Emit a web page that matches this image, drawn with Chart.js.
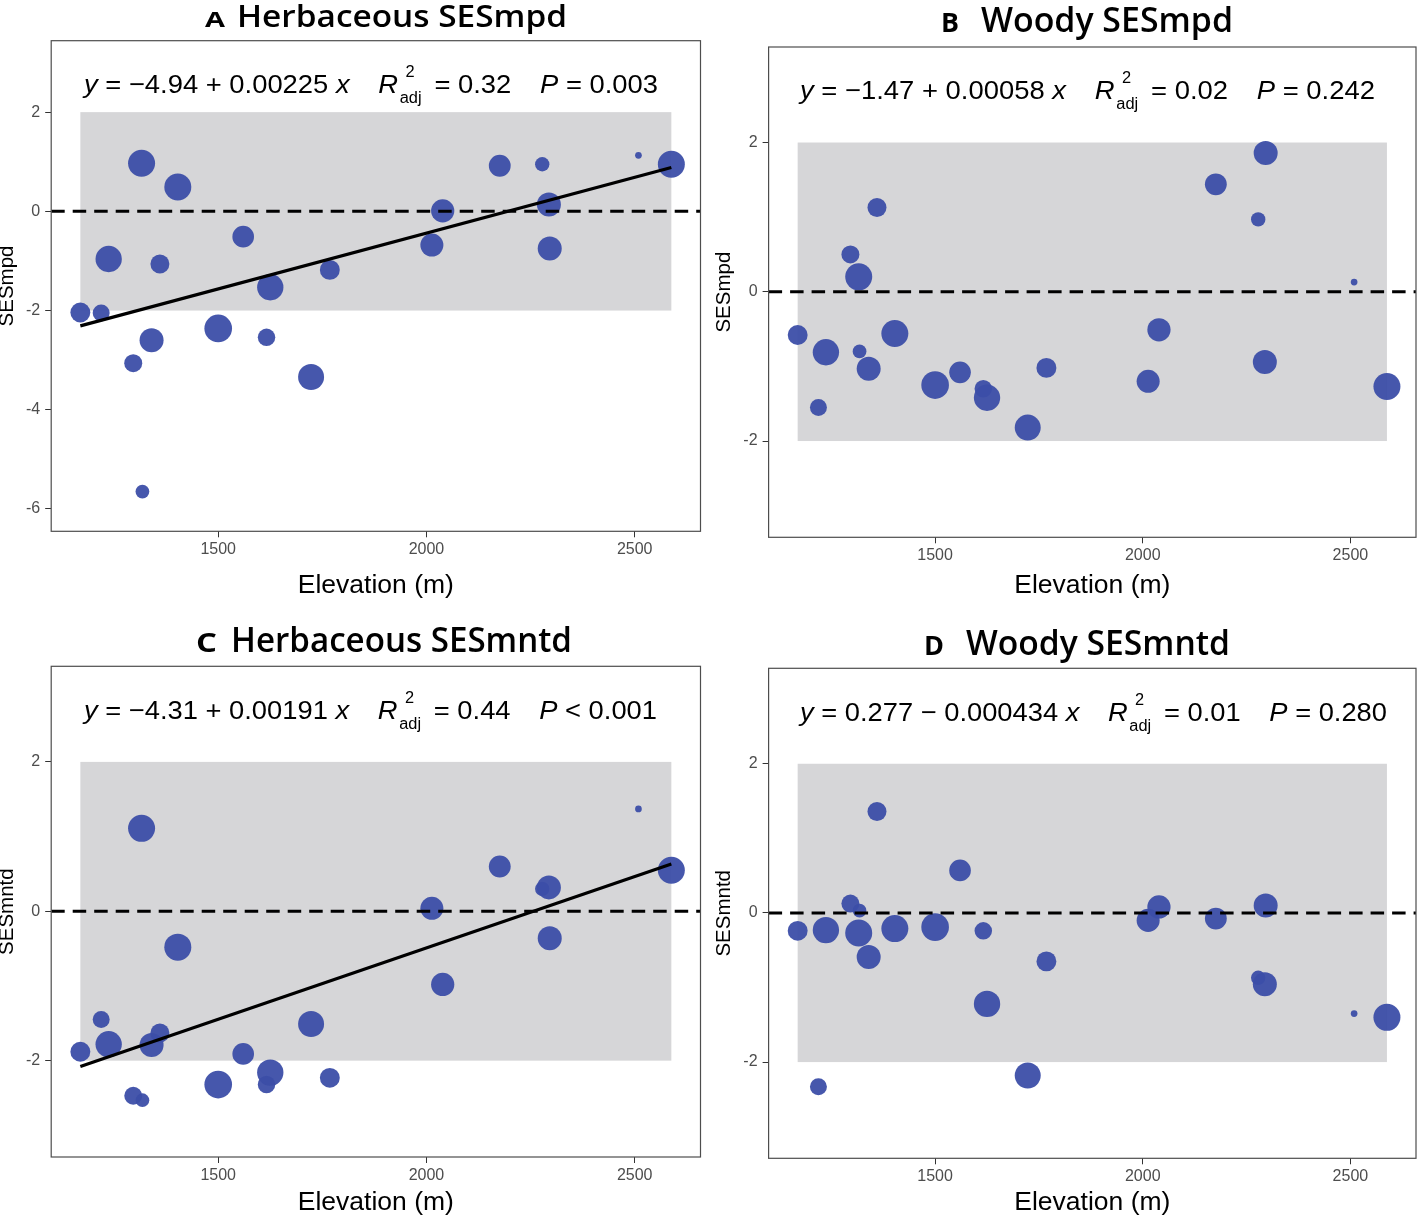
<!DOCTYPE html>
<html><head><meta charset="utf-8">
<script src="https://cdn.jsdelivr.net/npm/chart.js@4.4.0/dist/chart.umd.min.js"></script>
<style>
html,body{margin:0;padding:0;background:#fff;}
body{width:1417px;height:1216px;position:relative;overflow:hidden;}
canvas.pane{position:absolute;}
.txt{position:absolute;white-space:nowrap;line-height:1;color:#000;z-index:5;left:0;top:0;}
.lt{font-family:"Open Sans";font-weight:700;}
.mt{font-family:"Open Sans";font-weight:600;}
.eq{font-family:"Liberation Sans";font-size:26px;}
.eq i{font-style:italic;}
.gap{display:inline-block;width:1.05em;height:0;}
.ss{display:inline-block;position:relative;width:1.05em;height:0;vertical-align:baseline;}
.ss span{position:absolute;line-height:1;font-size:0.6em;}
.ss .sup{left:0.45em;top:-1.83em;}
.ss .sub{left:0.1em;top:-0.2em;}
</style>
</head>
<body>
<canvas id="cA" class="pane" width="707" height="608" style="left:0px;top:0px;width:707px;height:608px"></canvas>
<canvas id="cB" class="pane" width="710" height="608" style="left:707px;top:0px;width:710px;height:608px"></canvas>
<canvas id="cC" class="pane" width="707" height="608" style="left:0px;top:608px;width:707px;height:608px"></canvas>
<canvas id="cD" class="pane" width="710" height="608" style="left:707px;top:608px;width:710px;height:608px"></canvas>

<div class="txt lt" id="tAl" style="font-size:21.5px">A</div>
<div class="txt mt" id="tAm" style="font-size:31px">Herbaceous SESmpd</div>
<div class="txt lt" id="tBl" style="font-size:27px">B</div>
<div class="txt mt" id="tBm" style="font-size:35px">Woody SESmpd</div>
<div class="txt lt" id="tCl" style="font-size:27px">C</div>
<div class="txt mt" id="tCm" style="font-size:35px">Herbaceous SESmntd</div>
<div class="txt lt" id="tDl" style="font-size:27px">D</div>
<div class="txt mt" id="tDm" style="font-size:35px">Woody SESmntd</div>

<div class="txt eq" id="eA"><i>y</i> = −4.94 + 0.00225 <i>x</i><span class="gap"></span><i>R</i><span class="ss"><span class="sup">2</span><span class="sub">adj</span></span> = 0.32<span class="gap"></span><i>P</i> = 0.003</div>
<div class="txt eq" id="eB"><i>y</i> = −1.47 + 0.00058 <i>x</i><span class="gap"></span><i>R</i><span class="ss"><span class="sup">2</span><span class="sub">adj</span></span> = 0.02<span class="gap"></span><i>P</i> = 0.242</div>
<div class="txt eq" id="eC"><i>y</i> = −4.31 + 0.00191 <i>x</i><span class="gap"></span><i>R</i><span class="ss"><span class="sup">2</span><span class="sub">adj</span></span> = 0.44<span class="gap"></span><i>P</i> &lt; 0.001</div>
<div class="txt eq" id="eD"><i>y</i> = 0.277 − 0.000434 <i>x</i><span class="gap"></span><i>R</i><span class="ss"><span class="sup">2</span><span class="sub">adj</span></span> = 0.01<span class="gap"></span><i>P</i> = 0.280</div>

<script>
// ---------------- DATA ----------------
// site elevations (m), shared by all four panels
const elevation = [1169, 1219, 1237, 1296, 1316, 1318, 1340, 1360, 1403, 1500, 1560, 1616,
                   1625, 1723, 1768, 2013, 2039, 2176, 2278, 2294, 2296, 2509, 2588];
// bubble size variable per site (relative units)
const siteN = [44, 32, 77, 36, 81, 21, 64, 40, 81, 85, 52, 34,
               77, 75, 44, 59, 60, 53, 23, 64, 64, 5, 81];
// A: herbaceous SESmpd
const herbSESmpd = [-2.04, -2.05, -0.96, -3.06, 0.97, -5.65, -2.60, -1.06, 0.49, -2.36, -0.51, -2.54,
                    -1.53, -3.34, -1.18, -0.68, 0.01, 0.92, 0.95, 0.14, -0.75, 1.13, 0.95];
// B: woody SESmpd
const woodySESmpd = [-0.58, -1.55, -0.81, 0.50, 0.20, -0.80, -1.03, 1.13, -0.56, -1.25, -1.08, -1.30,
                     -1.42, -1.82, -1.02, -1.20, -0.51, 1.44, 0.97, -0.94, 1.86, 0.13, -1.27];
// C: herbaceous SESmntd
const herbSESmntd = [-1.88, -1.45, -1.78, -2.47, 1.11, -2.53, -1.79, -1.63, -0.48, -2.32, -1.91, -2.32,
                     -2.16, -1.51, -2.23, 0.04, -0.98, 0.60, 0.30, 0.32, -0.36, 1.37, 0.55];
// D: woody SESmntd
const woodySESmntd = [-0.24, -2.33, -0.23, 0.125, -0.27, 0.03, -0.59, 1.36, -0.21, -0.19, 0.57, -0.24,
                      -1.22, -2.18, -0.65, -0.10, 0.08, -0.076, -0.87, -0.955, 0.10, -1.35, -1.40];
// regression coefficients [intercept, slope] for significant fits
const herbMpdFit = [-4.94, 0.00225];
const herbMntdFit = [-4.31, 0.00191];
// tick labels
const xTicks = [1500, 2000, 2500];
const yTicksA = [-6, -4, -2, 0, 2];
const yTicksOther = [-2, 0, 2];
// axis ranges
const xRange = [1099, 2658];
const yRangeA = [-6.45, 3.44];
const yRangeOther = [-3.29, 3.28];
// null-model band limits
const nullBand = [-2, 2];

// ---------------- DRAWING ----------------
const radius = n => 1.5 * Math.sqrt(n);

const bandPlugin = {
  id: 'band',
  beforeDatasetsDraw(chart) {
    const {ctx, scales: {x, y}} = chart;
    const x0 = x.getPixelForValue(Math.min(...elevation));
    const x1 = x.getPixelForValue(Math.max(...elevation));
    const y0 = y.getPixelForValue(nullBand[1]);
    const y1 = y.getPixelForValue(nullBand[0]);
    ctx.save();
    ctx.fillStyle = '#d6d6d8';
    ctx.fillRect(x0, y0, x1 - x0, y1 - y0);
    ctx.restore();
  }
};
const borderPlugin = {
  id: 'frame',
  afterDraw(chart) {
    const {ctx, chartArea: a} = chart;
    ctx.save();
    ctx.strokeStyle = '#4d4d4d';
    ctx.lineWidth = 1.2;
    ctx.strokeRect(a.left, a.top, a.right - a.left, a.bottom - a.top);
    ctx.restore();
  }
};

function panel(p) {
  const xmin = Math.min(...elevation), xmax = Math.max(...elevation);
  const datasets = [{
    type: 'bubble',
    data: elevation.map((x, i) => ({x: x, y: p.values[i], r: radius(siteN[i])})),
    backgroundColor: 'rgba(60,78,168,0.95)',
    borderWidth: 0,
    order: 3
  }, {
    type: 'line',
    data: [{x: xRange[0], y: 0}, {x: xRange[1], y: 0}],
    borderColor: '#000', borderWidth: 3, borderDash: [13.5, 8],
    pointRadius: 0, fill: false, order: 1
  }];
  if (p.fit) {
    datasets.push({
      type: 'line',
      data: [{x: xmin, y: p.fit[0] + p.fit[1] * xmin}, {x: xmax, y: p.fit[0] + p.fit[1] * xmax}],
      borderColor: '#000', borderWidth: 3.2, pointRadius: 0, fill: false, order: 0
    });
  }
  const tickFont = {family: 'Liberation Sans', size: 16};
  new Chart(document.getElementById(p.id), {
    type: 'bubble',
    data: {datasets},
    plugins: [bandPlugin, borderPlugin],
    options: {
      responsive: false,
      animation: false,
      events: [],
      layout: {autoPadding: false, padding: {top: p.padTop, right: p.padRight, bottom: 0, left: 0}},
      plugins: {legend: {display: false}, tooltip: {enabled: false}},
      scales: {
        x: {
          type: 'linear', min: xRange[0], max: xRange[1],
          afterBuildTicks: s => { s.ticks = xTicks.map(v => ({value: v})); },
          afterFit: s => { s.height = p.xAxisH; },
          grid: {drawOnChartArea: false, drawTicks: true, tickLength: 6, tickColor: '#333', tickWidth: 1},
          border: {display: false},
          ticks: {font: tickFont, color: '#4d4d4d', padding: 3, maxRotation: 0, autoSkip: false,
                  callback: v => String(v)},
          title: {display: true, text: 'Elevation (m)', color: '#000',
                  font: {family: 'Liberation Sans', size: 26.5, lineHeight: 1},
                  padding: {top: 0, bottom: p.xTitlePad}}
        },
        y: {
          type: 'linear', min: p.yRange[0], max: p.yRange[1],
          afterBuildTicks: s => { s.ticks = p.yTicks.map(v => ({value: v})); },
          afterFit: s => { s.width = p.yAxisW; },
          grid: {drawOnChartArea: false, drawTicks: true, tickLength: 6, tickColor: '#333', tickWidth: 1},
          border: {display: false},
          ticks: {font: tickFont, color: '#4d4d4d', padding: 5, autoSkip: false,
                  callback: v => String(v)},
          title: {display: true, text: p.yTitle, color: '#000',
                  font: {family: 'Liberation Sans', size: 20.5, lineHeight: 0.6},
                  padding: {top: p.yTitlePad, bottom: 0}}
        }
      }
    }
  });
}

panel({id: 'cA', values: herbSESmpd, fit: herbMpdFit, yRange: yRangeA, yTicks: yTicksA, yTitle: 'SESmpd',
       padTop: 40.7, padRight: 6.5, yAxisW: 51.2, xAxisH: 76.7, xTitlePad: 8.75, yTitlePad: 1.5});
panel({id: 'cB', values: woodySESmpd, fit: null, yRange: yRangeOther, yTicks: yTicksOther, yTitle: 'SESmpd',
       padTop: 47, padRight: 1, yAxisW: 61.6, xAxisH: 70.7, xTitlePad: 8.75, yTitlePad: 11});
panel({id: 'cC', values: herbSESmntd, fit: herbMntdFit, yRange: yRangeOther, yTicks: yTicksOther, yTitle: 'SESmntd',
       padTop: 58.3, padRight: 6.5, yAxisW: 51.2, xAxisH: 59, xTitlePad: 0.5, yTitlePad: 1.5});
panel({id: 'cD', values: woodySESmntd, fit: null, yRange: yRangeOther, yTicks: yTicksOther, yTitle: 'SESmntd',
       padTop: 60.3, padRight: 1, yAxisW: 61.6, xAxisH: 57.7, xTitlePad: 0, yTitlePad: 11});

// ---------------- TEXT PLACEMENT ----------------
function place(id, x0, x1, base) {
  const el = document.getElementById(id);
  el.style.transform = 'none';
  el.style.left = '0px'; el.style.top = '0px';
  const probe = document.createElement('span');
  probe.style.cssText = 'display:inline-block;width:0;height:0;vertical-align:baseline';
  el.appendChild(probe);
  const r = el.getBoundingClientRect();
  const pb = probe.getBoundingClientRect().top - r.top;
  el.removeChild(probe);
  el.style.transformOrigin = '0 0';
  el.style.transform = 'scaleX(' + ((x1 - x0) / r.width) + ')';
  el.style.left = x0 + 'px';
  el.style.top = (base - pb) + 'px';
}
function layoutText() {
  place('tAl', 205, 225, 27.3);  place('tAm', 237, 567, 27.3);
  place('tBl', 941, 959, 32.3);  place('tBm', 981, 1233, 32.3);
  place('tCl', 196, 217, 652.3); place('tCm', 231, 572, 652.3);
  place('tDl', 924, 944, 655);   place('tDm', 966, 1230, 655);
  place('eA', 84, 658, 92.7);
  place('eB', 800, 1375, 99);
  place('eC', 84, 657, 719);
  place('eD', 800, 1387, 720.7);
}
layoutText();
if (document.fonts && document.fonts.ready) document.fonts.ready.then(layoutText);
</script>
</body></html>
